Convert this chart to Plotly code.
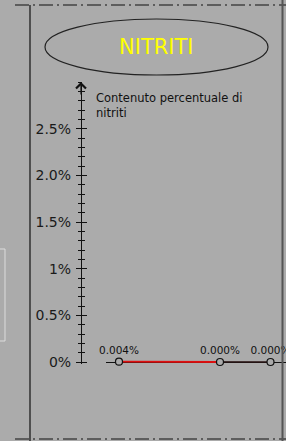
import plotly.graph_objects as go

# ---- data ----
campioni = [0, 2, 3]                  # sample positions along the x scale
nitriti = [0.004, 0.000, 0.000]       # % nitrites
etichette = ["0.004%", "0.000%", "0.000%"]
y_tickvals = [0, 0.5, 1, 1.5, 2, 2.5]
y_ticktext = ["0%", "0.5%", "1%", "1.5%", "2.0%", "2.5%"]
titolo = "NITRITI"
titolo_asse = "Contenuto percentuale di<br>nitriti"

W, H = 286, 441
BG = "#ababab"
FONT = "DejaVu Sans"
AX_X = 81
Y_PX = 93.3          # pixels per 1 %
Y0_PIX = 362         # pixel row of 0 %
Y_BELOW = 0.02       # axis line runs a bit below 0 %


def px(x):
    return x / W


def py(y):
    return 1 - y / H


fig = go.Figure()

# invisible trace on base axis
fig.add_trace(go.Scatter(x=[campioni[0]], y=[nitriti[0]], mode="markers",
                         marker=dict(opacity=0), hoverinfo="skip", showlegend=False))
# connecting line (dark) for all points
fig.add_trace(go.Scatter(
    x=campioni, y=nitriti, yaxis="y2", mode="lines", cliponaxis=False,
    line=dict(color="#2a1414", width=1.3), hoverinfo="skip", showlegend=False))
# red segment between first two samples
fig.add_trace(go.Scatter(
    x=campioni[:2], y=nitriti[:2], yaxis="y2", mode="lines", cliponaxis=False,
    line=dict(color="#dd1010", width=1.8), hoverinfo="skip", showlegend=False))
# markers + labels
fig.add_trace(go.Scatter(
    x=campioni, y=nitriti, yaxis="y2", mode="markers+text",
    marker=dict(symbol="circle", size=7, color=BG, line=dict(color="#111", width=1.2)),
    text=etichette, textposition="top center",
    textfont=dict(family=FONT, size=10.5, color="#111"),
    cliponaxis=False, showlegend=False))

y_rng = [-Y_BELOW, (Y0_PIX - 82) / Y_PX]
y_dom = [py(Y0_PIX + Y_BELOW * Y_PX), py(82)]
x_scale = 50.5
x0 = -(119 - 106) / x_scale
x_rng = [x0, x0 + (W - 106) / x_scale]

fig.update_layout(
    width=W, height=H, autosize=False,
    margin=dict(l=0, r=0, t=0, b=0, pad=0, autoexpand=False),
    paper_bgcolor=BG, plot_bgcolor=BG,
    showlegend=False,
    xaxis=dict(domain=[px(106), 1], range=x_rng, showgrid=False, zeroline=False,
               showticklabels=False, ticks="", showline=False, anchor="y",
               fixedrange=True),
    yaxis=dict(domain=y_dom, range=y_rng, anchor="free", position=px(AX_X),
               showgrid=False, zeroline=True, zerolinecolor="#111", zerolinewidth=1.2,
               showline=True, linecolor="#111",
               linewidth=1.2, tickvals=y_tickvals, ticktext=y_ticktext,
               ticks="outside", ticklen=5, tickwidth=1.2, tickcolor="#111",
               ticklabelstandoff=2,
               tickfont=dict(family=FONT, size=14, color="#1a1a1a"),
               minor=dict(dtick=0.1, tick0=0, ticks="outside", ticklen=3, tickwidth=1,
                          tickcolor="#111", showgrid=False),
               fixedrange=True),
    yaxis2=dict(overlaying="y", range=y_rng, anchor="free", position=px(AX_X),
                showgrid=False, zeroline=False, showline=False,
                showticklabels=False, tickvals=y_tickvals,
                ticks="inside", ticklen=5, tickwidth=1.2, tickcolor="#111",
                minor=dict(dtick=0.1, tick0=0, ticks="inside", ticklen=3, tickwidth=1,
                           tickcolor="#111", showgrid=False),
                fixedrange=True),
)

shapes = [
    # title ellipse
    dict(type="circle", xref="paper", yref="paper",
         x0=px(45), x1=px(268), y0=py(75), y1=py(19),
         line=dict(color="#222", width=1.2)),
    # frame: top and bottom dash-dot lines
    dict(type="line", xref="paper", yref="paper", x0=px(15), x1=1, y0=py(5), y1=py(5),
         line=dict(color="#111", width=1.2, dash="14px,4px,2px,4px")),
    dict(type="line", xref="paper", yref="paper", x0=px(15), x1=1, y0=py(439), y1=py(439),
         line=dict(color="#111", width=1.2, dash="14px,4px,2px,4px")),
    # left and right vertical borders
    dict(type="line", xref="paper", yref="paper", x0=px(30), x1=px(30), y0=0, y1=py(5),
         line=dict(color="#111", width=1.2)),
    dict(type="line", xref="paper", yref="paper", x0=px(282.5), x1=px(282.5), y0=0, y1=1,
         line=dict(color="#555", width=2)),
    # small light rectangle at left edge
    dict(type="rect", xref="paper", yref="paper", x0=px(-2), x1=px(5), y0=py(341), y1=py(249),
         line=dict(color="#dcdcdc", width=1)),
]
fig.update_layout(shapes=shapes)

fig.add_annotation(xref="paper", yref="paper", x=px(156), y=py(47), text=titolo,
                   showarrow=False, font=dict(family=FONT, size=21, color="#ffff00"),
                   xanchor="center", yanchor="middle")
fig.add_annotation(xref="paper", yref="paper", x=px(94), y=py(89), text=titolo_asse,
                   showarrow=False, align="left", xanchor="left", yanchor="top",
                   font=dict(family=FONT, size=11.5, color="#111"))
# arrow head at top of y axis
fig.add_annotation(xref="paper", yref="y", x=px(AX_X), y=y_rng[1], ax=0, ay=14,
                   text="", showarrow=True, arrowhead=4, arrowsize=1.6,
                   arrowwidth=1.2, arrowcolor="#111", standoff=0)

fig.write_html(
    "out.html",
    config={"displayModeBar": False, "responsive": False},
    post_script=("document.documentElement.style.overflow='hidden';"
                 "document.body.style.margin='0';document.body.style.overflow='hidden';"
                 "document.body.style.background='%s';" % BG),
)
